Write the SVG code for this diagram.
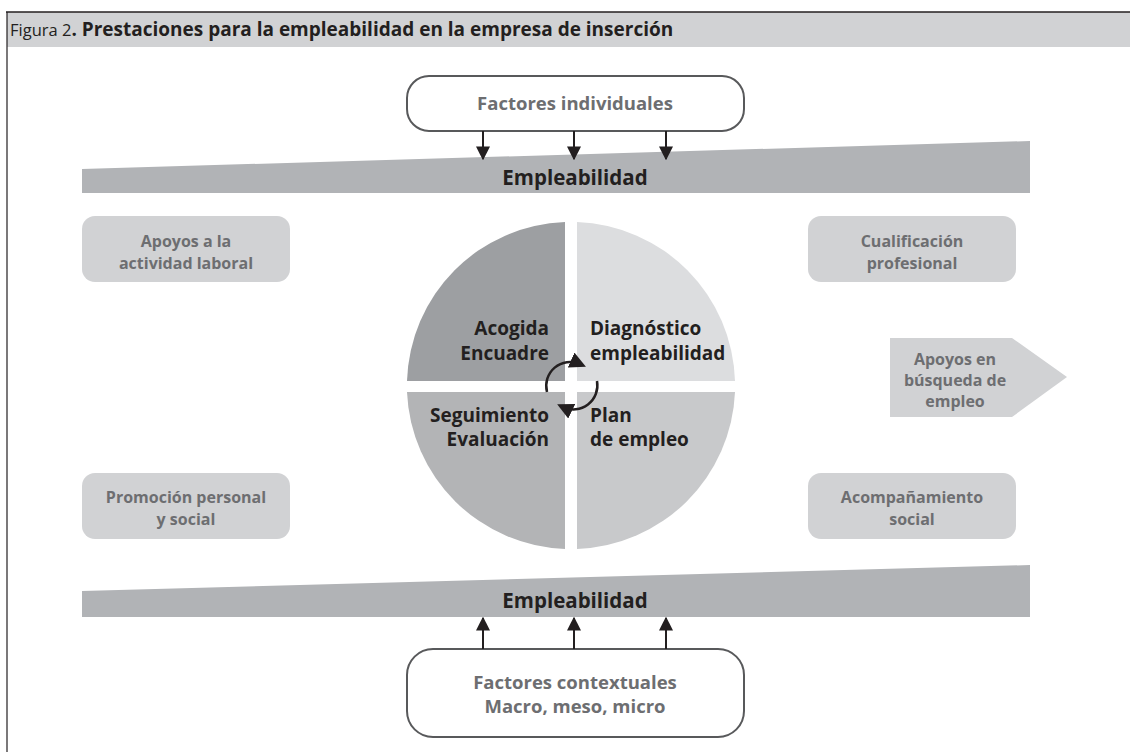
<svg xmlns="http://www.w3.org/2000/svg" width="1130" height="752" viewBox="0 0 1130 752">
  <defs>
    <marker id="ah" viewBox="0 0 10 10" refX="9" refY="5" markerWidth="7" markerHeight="7" markerUnits="strokeWidth" orient="auto">
      <path d="M0,0 L10,5 L0,10 Z" fill="#231f20"/>
    </marker>
    <marker id="ahc" viewBox="0 0 10 10" refX="6" refY="5" markerWidth="6.5" markerHeight="6.5" markerUnits="strokeWidth" orient="auto">
      <path d="M0,0 L10,5 L0,10 Z" fill="#231f20"/>
    </marker>
  </defs>
  <style>
    .t { font-family: "Open Sans", "Liberation Sans", sans-serif; font-weight: 700; }
    .title { font-size: 19px; fill: #231f20; }
    .band { fill: #b1b3b6; }
    .bandtxt { font-size: 20.5px; fill: #231f20; text-anchor: middle; }
    .fbox { fill: #ffffff; stroke: #58595b; stroke-width: 2; }
    .ftxt { font-size: 18.5px; fill: #6d6e71; text-anchor: middle; }
    .sbox { fill: #d1d2d4; }
    .stxt { font-size: 16px; fill: #6d6e71; text-anchor: middle; }
    .qtxt { font-size: 19px; fill: #231f20; }
    .conn { stroke: #231f20; stroke-width: 2; fill: none; }
    .cyc { stroke: #231f20; stroke-width: 2.5; fill: none; }
  </style>

  <rect x="0" y="0" width="1130" height="752" fill="#ffffff"/>

  <g id="header">
    <rect x="7" y="12" width="1123" height="35" fill="#d1d2d4"/>
    <line x1="6" y1="12" x2="1130" y2="12" stroke="#231f20" stroke-width="1.5"/>
    <line x1="7" y1="12" x2="7" y2="752" stroke="#231f20" stroke-width="1.2"/>
    <text class="t title" x="10" y="36"><tspan font-weight="400" font-size="16.5">Figura 2</tspan>. Prestaciones para la empleabilidad en la empresa de inserción</text>
  </g>

  <g id="band-top">
    <polygon class="band" points="82,169 1030,141 1030,193 82,193"/>
    <text class="t bandtxt" x="575" y="185">Empleabilidad</text>
  </g>

  <g id="band-bottom">
    <polygon class="band" points="82,591 1030,565 1030,617 82,617"/>
    <text class="t bandtxt" x="575" y="608">Empleabilidad</text>
  </g>

  <g id="factores-individuales">
    <rect class="fbox" x="407" y="76" width="337" height="55" rx="22" ry="22"/>
    <text class="t ftxt" x="575" y="110">Factores individuales</text>
  </g>

  <g id="factores-contextuales">
    <rect class="fbox" x="407" y="649" width="337" height="88" rx="26" ry="26"/>
    <text class="t ftxt" x="575" y="689">Factores contextuales</text>
    <text class="t ftxt" x="575" y="713">Macro, meso, micro</text>
  </g>

  <g id="apoyos-actividad">
    <rect class="sbox" x="82" y="216" width="208" height="66" rx="13" ry="13"/>
    <text class="t stxt" x="186" y="247">Apoyos a la</text>
    <text class="t stxt" x="186" y="269">actividad laboral</text>
  </g>

  <g id="promocion">
    <rect class="sbox" x="82" y="473" width="208" height="66" rx="13" ry="13"/>
    <text class="t stxt" x="186" y="503">Promoción personal</text>
    <text class="t stxt" x="186" y="525">y social</text>
  </g>

  <g id="cualificacion">
    <rect class="sbox" x="808" y="216" width="208" height="66" rx="13" ry="13"/>
    <text class="t stxt" x="912" y="247">Cualificación</text>
    <text class="t stxt" x="912" y="269">profesional</text>
  </g>

  <g id="acompanamiento">
    <rect class="sbox" x="808" y="473" width="208" height="66" rx="13" ry="13"/>
    <text class="t stxt" x="912" y="503">Acompañamiento</text>
    <text class="t stxt" x="912" y="525">social</text>
  </g>

  <g id="apoyos-busqueda">
    <polygon class="sbox" points="890,338 1012,338 1067,377 1012,417 890,417"/>
    <text class="t stxt" x="955" y="365">Apoyos en</text>
    <text class="t stxt" x="955" y="386">búsqueda de</text>
    <text class="t stxt" x="955" y="407">empleo</text>
  </g>

  <g id="ciclo">
    <path d="M565,381 L565,222 A164,164 0 0 0 407,381 Z" fill="#9d9fa2"/>
    <path d="M577,381 L577,222 A164,164 0 0 1 735,381 Z" fill="#dcdddf"/>
    <path d="M565,392 L565,549 A164,164 0 0 1 407,392 Z" fill="#b3b4b6"/>
    <path d="M577,392 L577,549 A164,164 0 0 0 735,392 Z" fill="#c8c9cb"/>
    <text class="t qtxt" x="549" y="335" text-anchor="end">Acogida</text>
    <text class="t qtxt" x="549" y="360" text-anchor="end">Encuadre</text>
    <text class="t qtxt" x="590" y="335">Diagnóstico</text>
    <text class="t qtxt" x="590" y="360">empleabilidad</text>
    <text class="t qtxt" x="549" y="422" text-anchor="end">Seguimiento</text>
    <text class="t qtxt" x="549" y="446" text-anchor="end">Evaluación</text>
    <text class="t qtxt" x="590" y="422">Plan</text>
    <text class="t qtxt" x="590" y="446">de empleo</text>
  </g>

  <g id="connectors">
    <line class="conn" x1="483" y1="131" x2="483" y2="159" marker-end="url(#ah)"/>
    <line class="conn" x1="574" y1="131" x2="574" y2="159" marker-end="url(#ah)"/>
    <line class="conn" x1="666" y1="131" x2="666" y2="159" marker-end="url(#ah)"/>
    <line class="conn" x1="483" y1="649" x2="483" y2="618" marker-end="url(#ah)"/>
    <line class="conn" x1="574" y1="649" x2="574" y2="618" marker-end="url(#ah)"/>
    <line class="conn" x1="666" y1="649" x2="666" y2="618" marker-end="url(#ah)"/>
    <path class="cyc" d="M547,392 A24,24 0 0 1 580,364" marker-end="url(#ahc)"/>
    <path class="cyc" d="M597,381 A24,24 0 0 1 563,407" marker-end="url(#ahc)"/>
  </g>
</svg>
